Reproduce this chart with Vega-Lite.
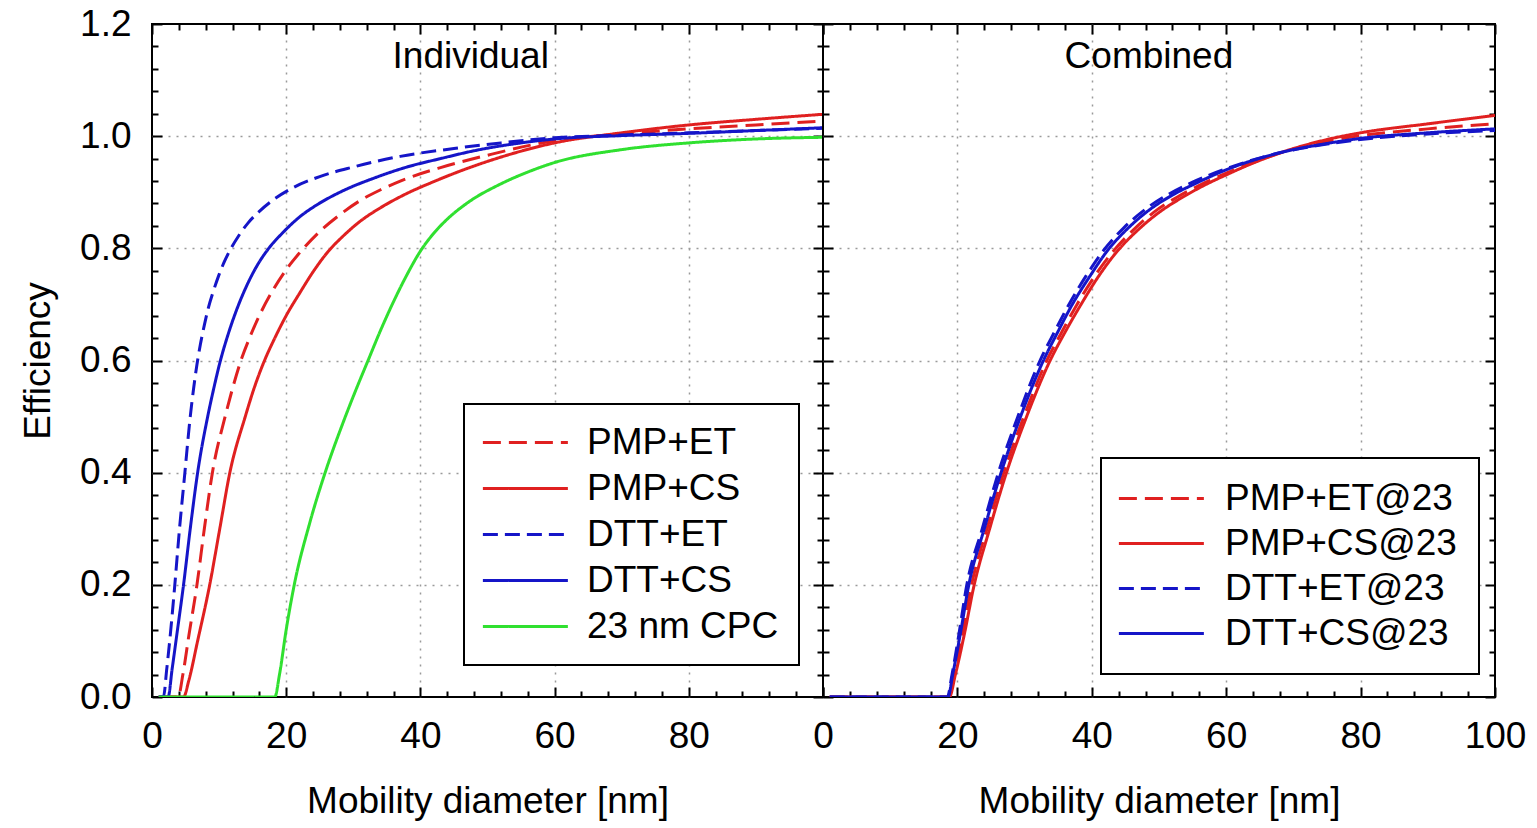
{
  "$schema": "https://vega.github.io/schema/vega-lite/v6.json",
  "background": "white",
  "bounds": "flush",
  "padding": {"left": 18, "top": 4, "right": 5, "bottom": 5},
  "config": {
    "font": "Liberation Sans",
    "view": {"stroke": "black", "strokeWidth": 2},
    "axis": {
      "domain": false, "tickColor": "black", "tickWidth": 2,
      "labelFontSize": 37, "labelColor": "black", "labelFont": "Liberation Sans",
      "titleFontSize": 37, "titleFontWeight": "normal", "titleColor": "black", "titleFont": "Liberation Sans",
      "labelOverlap": false, "labelFlush": false,
      "gridColor": "#9a9a9a", "gridDash": [2, 6], "gridWidth": 1.5
    },
    "legend": {"labelFont": "Liberation Sans", "labelColor": "black", "strokeWidth": 2}
  },
  "datasets": {
    "left": [
      {"s":"PMP+ET","d":1,"e":0},{"s":"PMP+ET","d":3.9,"e":0},{"s":"PMP+ET","d":4.6,"e":0.04},{"s":"PMP+ET","d":5.5,"e":0.11},{"s":"PMP+ET","d":6.7,"e":0.2},{"s":"PMP+ET","d":7.8,"e":0.3},{"s":"PMP+ET","d":9,"e":0.4},{"s":"PMP+ET","d":10.9,"e":0.5},{"s":"PMP+ET","d":12,"e":0.55},{"s":"PMP+ET","d":13.2,"e":0.598},{"s":"PMP+ET","d":14.6,"e":0.642},{"s":"PMP+ET","d":16.2,"e":0.685},{"s":"PMP+ET","d":18,"e":0.725},{"s":"PMP+ET","d":20,"e":0.762},{"s":"PMP+ET","d":22,"e":0.792},{"s":"PMP+ET","d":25,"e":0.83},{"s":"PMP+ET","d":28,"e":0.86},{"s":"PMP+ET","d":31,"e":0.885},{"s":"PMP+ET","d":34,"e":0.904},{"s":"PMP+ET","d":37,"e":0.92},{"s":"PMP+ET","d":43,"e":0.944},{"s":"PMP+ET","d":50,"e":0.966},{"s":"PMP+ET","d":60,"e":0.992},{"s":"PMP+ET","d":70,"e":1.004},{"s":"PMP+ET","d":80,"e":1.013},{"s":"PMP+ET","d":90,"e":1.02},{"s":"PMP+ET","d":100,"e":1.027},
      {"s":"PMP+CS","d":1,"e":0},{"s":"PMP+CS","d":4.7,"e":0},{"s":"PMP+CS","d":5.5,"e":0.03},{"s":"PMP+CS","d":6.8,"e":0.1},{"s":"PMP+CS","d":8.6,"e":0.2},{"s":"PMP+CS","d":10.1,"e":0.3},{"s":"PMP+CS","d":11.6,"e":0.4},{"s":"PMP+CS","d":13.9,"e":0.5},{"s":"PMP+CS","d":15.2,"e":0.55},{"s":"PMP+CS","d":16.7,"e":0.598},{"s":"PMP+CS","d":18.3,"e":0.64},{"s":"PMP+CS","d":20,"e":0.68},{"s":"PMP+CS","d":22,"e":0.72},{"s":"PMP+CS","d":24,"e":0.758},{"s":"PMP+CS","d":26.3,"e":0.795},{"s":"PMP+CS","d":28.5,"e":0.822},{"s":"PMP+CS","d":31,"e":0.848},{"s":"PMP+CS","d":34,"e":0.872},{"s":"PMP+CS","d":37.5,"e":0.895},{"s":"PMP+CS","d":42,"e":0.919},{"s":"PMP+CS","d":50,"e":0.955},{"s":"PMP+CS","d":60,"e":0.988},{"s":"PMP+CS","d":70,"e":1.006},{"s":"PMP+CS","d":80,"e":1.02},{"s":"PMP+CS","d":90,"e":1.03},{"s":"PMP+CS","d":100,"e":1.039},
      {"s":"DTT+ET","d":1,"e":0},{"s":"DTT+ET","d":1.7,"e":0},{"s":"DTT+ET","d":2.2,"e":0.05},{"s":"DTT+ET","d":2.8,"e":0.12},{"s":"DTT+ET","d":3.4,"e":0.2},{"s":"DTT+ET","d":4.1,"e":0.3},{"s":"DTT+ET","d":4.9,"e":0.4},{"s":"DTT+ET","d":5.7,"e":0.5},{"s":"DTT+ET","d":6.2,"e":0.55},{"s":"DTT+ET","d":6.7,"e":0.593},{"s":"DTT+ET","d":7.2,"e":0.628},{"s":"DTT+ET","d":7.8,"e":0.663},{"s":"DTT+ET","d":8.4,"e":0.694},{"s":"DTT+ET","d":9.1,"e":0.722},{"s":"DTT+ET","d":9.9,"e":0.75},{"s":"DTT+ET","d":10.7,"e":0.774},{"s":"DTT+ET","d":11.6,"e":0.796},{"s":"DTT+ET","d":12.9,"e":0.822},{"s":"DTT+ET","d":14.3,"e":0.845},{"s":"DTT+ET","d":16,"e":0.866},{"s":"DTT+ET","d":17.9,"e":0.885},{"s":"DTT+ET","d":21,"e":0.908},{"s":"DTT+ET","d":25,"e":0.928},{"s":"DTT+ET","d":30,"e":0.945},{"s":"DTT+ET","d":37,"e":0.964},{"s":"DTT+ET","d":45,"e":0.978},{"s":"DTT+ET","d":52,"e":0.988},{"s":"DTT+ET","d":60,"e":0.997},{"s":"DTT+ET","d":70,"e":1.002},{"s":"DTT+ET","d":80,"e":1.006},{"s":"DTT+ET","d":90,"e":1.01},{"s":"DTT+ET","d":100,"e":1.014},
      {"s":"DTT+CS","d":1,"e":0},{"s":"DTT+CS","d":2.4,"e":0},{"s":"DTT+CS","d":3,"e":0.05},{"s":"DTT+CS","d":3.8,"e":0.12},{"s":"DTT+CS","d":4.7,"e":0.2},{"s":"DTT+CS","d":5.7,"e":0.3},{"s":"DTT+CS","d":6.8,"e":0.4},{"s":"DTT+CS","d":8.3,"e":0.5},{"s":"DTT+CS","d":9.2,"e":0.55},{"s":"DTT+CS","d":10.2,"e":0.6},{"s":"DTT+CS","d":11.3,"e":0.645},{"s":"DTT+CS","d":12.6,"e":0.69},{"s":"DTT+CS","d":14.1,"e":0.733},{"s":"DTT+CS","d":15.7,"e":0.77},{"s":"DTT+CS","d":17.4,"e":0.8},{"s":"DTT+CS","d":19.5,"e":0.828},{"s":"DTT+CS","d":22,"e":0.856},{"s":"DTT+CS","d":24.5,"e":0.877},{"s":"DTT+CS","d":28,"e":0.9},{"s":"DTT+CS","d":33.5,"e":0.927},{"s":"DTT+CS","d":38,"e":0.945},{"s":"DTT+CS","d":43,"e":0.96},{"s":"DTT+CS","d":48,"e":0.974},{"s":"DTT+CS","d":55,"e":0.988},{"s":"DTT+CS","d":60,"e":0.995},{"s":"DTT+CS","d":70,"e":1.001},{"s":"DTT+CS","d":80,"e":1.005},{"s":"DTT+CS","d":90,"e":1.01},{"s":"DTT+CS","d":100,"e":1.015},
      {"s":"23 nm CPC","d":1,"e":0},{"s":"23 nm CPC","d":18.3,"e":0},{"s":"23 nm CPC","d":19,"e":0.04},{"s":"23 nm CPC","d":20,"e":0.12},{"s":"23 nm CPC","d":21.2,"e":0.2},{"s":"23 nm CPC","d":23.5,"e":0.31},{"s":"23 nm CPC","d":25.8,"e":0.4},{"s":"23 nm CPC","d":28.5,"e":0.49},{"s":"23 nm CPC","d":30.3,"e":0.545},{"s":"23 nm CPC","d":32.2,"e":0.6},{"s":"23 nm CPC","d":34,"e":0.652},{"s":"23 nm CPC","d":36,"e":0.705},{"s":"23 nm CPC","d":38,"e":0.753},{"s":"23 nm CPC","d":40,"e":0.795},{"s":"23 nm CPC","d":42,"e":0.827},{"s":"23 nm CPC","d":44,"e":0.852},{"s":"23 nm CPC","d":47,"e":0.881},{"s":"23 nm CPC","d":52,"e":0.915},{"s":"23 nm CPC","d":56,"e":0.936},{"s":"23 nm CPC","d":60,"e":0.953},{"s":"23 nm CPC","d":70,"e":0.976},{"s":"23 nm CPC","d":80,"e":0.988},{"s":"23 nm CPC","d":90,"e":0.995},{"s":"23 nm CPC","d":100,"e":0.998}
    ],
    "right": [
      {"s":"PMP+ET@23","d":1,"e":0},{"s":"PMP+ET@23","d":18.7,"e":0},{"s":"PMP+ET@23","d":19.5,"e":0.04},{"s":"PMP+ET@23","d":20.7,"e":0.11},{"s":"PMP+ET@23","d":22.1,"e":0.2},{"s":"PMP+ET@23","d":24.4,"e":0.3},{"s":"PMP+ET@23","d":26.9,"e":0.4},{"s":"PMP+ET@23","d":29.9,"e":0.5},{"s":"PMP+ET@23","d":33.3,"e":0.6},{"s":"PMP+ET@23","d":35.5,"e":0.65},{"s":"PMP+ET@23","d":37.8,"e":0.7},{"s":"PMP+ET@23","d":40.4,"e":0.75},{"s":"PMP+ET@23","d":43.2,"e":0.795},{"s":"PMP+ET@23","d":46.2,"e":0.833},{"s":"PMP+ET@23","d":49.3,"e":0.865},{"s":"PMP+ET@23","d":52.8,"e":0.892},{"s":"PMP+ET@23","d":56.3,"e":0.914},{"s":"PMP+ET@23","d":60,"e":0.934},{"s":"PMP+ET@23","d":64,"e":0.953},{"s":"PMP+ET@23","d":67.5,"e":0.968},{"s":"PMP+ET@23","d":75,"e":0.991},{"s":"PMP+ET@23","d":80,"e":1.001},{"s":"PMP+ET@23","d":90,"e":1.013},{"s":"PMP+ET@23","d":100,"e":1.022},
      {"s":"PMP+CS@23","d":1,"e":0},{"s":"PMP+CS@23","d":18.8,"e":0},{"s":"PMP+CS@23","d":19.7,"e":0.04},{"s":"PMP+CS@23","d":21,"e":0.11},{"s":"PMP+CS@23","d":22.5,"e":0.2},{"s":"PMP+CS@23","d":24.8,"e":0.3},{"s":"PMP+CS@23","d":27.3,"e":0.4},{"s":"PMP+CS@23","d":30.3,"e":0.5},{"s":"PMP+CS@23","d":33.8,"e":0.6},{"s":"PMP+CS@23","d":36,"e":0.65},{"s":"PMP+CS@23","d":38.4,"e":0.7},{"s":"PMP+CS@23","d":41,"e":0.75},{"s":"PMP+CS@23","d":43.8,"e":0.795},{"s":"PMP+CS@23","d":46.8,"e":0.832},{"s":"PMP+CS@23","d":50,"e":0.864},{"s":"PMP+CS@23","d":53.5,"e":0.891},{"s":"PMP+CS@23","d":57,"e":0.914},{"s":"PMP+CS@23","d":60,"e":0.931},{"s":"PMP+CS@23","d":64,"e":0.952},{"s":"PMP+CS@23","d":67.5,"e":0.968},{"s":"PMP+CS@23","d":75,"e":0.994},{"s":"PMP+CS@23","d":80,"e":1.006},{"s":"PMP+CS@23","d":90,"e":1.022},{"s":"PMP+CS@23","d":100,"e":1.037},
      {"s":"DTT+ET@23","d":1,"e":0},{"s":"DTT+ET@23","d":18.5,"e":0},{"s":"DTT+ET@23","d":19.2,"e":0.04},{"s":"DTT+ET@23","d":20.2,"e":0.11},{"s":"DTT+ET@23","d":21.4,"e":0.2},{"s":"DTT+ET@23","d":23.7,"e":0.3},{"s":"DTT+ET@23","d":26.1,"e":0.4},{"s":"DTT+ET@23","d":29,"e":0.5},{"s":"DTT+ET@23","d":32.3,"e":0.6},{"s":"DTT+ET@23","d":34.4,"e":0.65},{"s":"DTT+ET@23","d":36.6,"e":0.7},{"s":"DTT+ET@23","d":39.1,"e":0.75},{"s":"DTT+ET@23","d":41.8,"e":0.797},{"s":"DTT+ET@23","d":44.8,"e":0.837},{"s":"DTT+ET@23","d":48,"e":0.87},{"s":"DTT+ET@23","d":51.5,"e":0.897},{"s":"DTT+ET@23","d":55,"e":0.918},{"s":"DTT+ET@23","d":60,"e":0.942},{"s":"DTT+ET@23","d":67.5,"e":0.969},{"s":"DTT+ET@23","d":75,"e":0.986},{"s":"DTT+ET@23","d":80,"e":0.994},{"s":"DTT+ET@23","d":90,"e":1.004},{"s":"DTT+ET@23","d":100,"e":1.01},
      {"s":"DTT+CS@23","d":1,"e":0},{"s":"DTT+CS@23","d":18.6,"e":0},{"s":"DTT+CS@23","d":19.3,"e":0.04},{"s":"DTT+CS@23","d":20.4,"e":0.11},{"s":"DTT+CS@23","d":21.7,"e":0.2},{"s":"DTT+CS@23","d":24,"e":0.3},{"s":"DTT+CS@23","d":26.5,"e":0.4},{"s":"DTT+CS@23","d":29.4,"e":0.5},{"s":"DTT+CS@23","d":32.8,"e":0.6},{"s":"DTT+CS@23","d":34.9,"e":0.65},{"s":"DTT+CS@23","d":37.1,"e":0.7},{"s":"DTT+CS@23","d":39.7,"e":0.75},{"s":"DTT+CS@23","d":42.4,"e":0.797},{"s":"DTT+CS@23","d":45.4,"e":0.836},{"s":"DTT+CS@23","d":48.5,"e":0.868},{"s":"DTT+CS@23","d":52,"e":0.895},{"s":"DTT+CS@23","d":55.5,"e":0.916},{"s":"DTT+CS@23","d":60,"e":0.94},{"s":"DTT+CS@23","d":67.5,"e":0.969},{"s":"DTT+CS@23","d":75,"e":0.987},{"s":"DTT+CS@23","d":80,"e":0.996},{"s":"DTT+CS@23","d":90,"e":1.006},{"s":"DTT+CS@23","d":100,"e":1.013}
    ]
  },
  "spacing": 0,
  "resolve": {
    "scale": {"color": "independent", "strokeDash": "independent"},
    "legend": {"color": "independent", "strokeDash": "independent"}
  },
  "hconcat": [
    {
      "width": 671, "height": 673,
      "resolve": {"axis": {"x": "independent", "y": "independent"}},
      "layer": [
        {
          "data": {"name": "left"},
          "mark": {"type": "line", "strokeWidth": 3, "clip": true, "interpolate": "monotone"},
          "encoding": {
            "x": {"field": "d", "type": "quantitative",
              "scale": {"domain": [0, 100], "nice": false, "zero": false},
              "axis": {"orient": "bottom",
                "values": [0,4,8,12,16,20,24,28,32,36,40,44,48,52,56,60,64,68,72,76,80,84,88,92,96,100],
                "tickSize": {"condition": {"test": "datum.value % 20 === 0", "value": -10}, "value": -6},
                "labelExpr": "datum.value % 20 === 0 && datum.value < 100 ? datum.label : ''",
                "labelPadding": 31,
                "grid": true,
                "gridOpacity": {"condition": {"test": "datum.value % 20 === 0 && datum.value > 0 && datum.value < 100", "value": 1}, "value": 0},
                "title": "Mobility diameter [nm]", "titlePadding": 25}},
            "y": {"field": "e", "type": "quantitative",
              "scale": {"domain": [0, 1.2], "nice": false, "zero": false},
              "axis": {"orient": "left",
                "values": [0,0.04,0.08,0.12,0.16,0.2,0.24,0.28,0.32,0.36,0.4,0.44,0.48,0.52,0.56,0.6,0.64,0.68,0.72,0.76,0.8,0.84,0.88,0.92,0.96,1,1.04,1.08,1.12,1.16,1.2],
                "tickSize": {"condition": {"test": "abs(datum.value*5 - round(datum.value*5)) < 0.001", "value": -10}, "value": -6},
                "labelExpr": "abs(datum.value*5 - round(datum.value*5)) < 0.001 ? format(datum.value, '.1f') : ''",
                "labelPadding": 31,
                "grid": true,
                "gridOpacity": {"condition": {"test": "abs(datum.value*5 - round(datum.value*5)) < 0.001 && datum.value > 0.01 && datum.value < 1.19", "value": 1}, "value": 0},
                "title": "Efficiency", "titlePadding": 22}},
            "color": {"field": "s", "type": "nominal",
              "scale": {"domain": ["PMP+ET","PMP+CS","DTT+ET","DTT+CS","23 nm CPC"], "range": ["#e02020","#e02020","#1515c8","#1515c8","#30e030"]},
              "legend": {"title": null, "orient": "none", "legendX": 312, "legendY": 380, "symbolType": "M-1,0H7", "symbolSize": 451.6, "symbolStrokeWidth": 3, "symbolOffset": -9, "labelOffset": 75, "labelFontSize": 37, "labelLimit": 400, "rowPadding": 8, "padding": 20, "strokeColor": "black", "fillColor": "white"}},
            "strokeDash": {"field": "s", "type": "nominal",
              "scale": {"domain": ["PMP+ET","PMP+CS","DTT+ET","DTT+CS","23 nm CPC"], "range": [[18,8],[1,0],[15,7],[1,0],[1,0]]},
              "legend": {"title": null, "orient": "none", "legendX": 312, "legendY": 380, "symbolType": "M-1,0H7", "symbolSize": 451.6, "symbolStrokeWidth": 3, "symbolOffset": -9, "labelOffset": 75, "labelFontSize": 37, "labelLimit": 400, "rowPadding": 8, "padding": 20, "strokeColor": "black", "fillColor": "white"}}
          }
        },
        {
          "data": {"values": [{}]},
          "mark": {"type": "text", "text": "Individual", "fontSize": 37, "font": "Liberation Sans", "fill": "black"},
          "encoding": {
            "x": {"datum": 47.5, "type": "quantitative",
              "axis": {"orient": "top",
                "values": [0,4,8,12,16,20,24,28,32,36,40,44,48,52,56,60,64,68,72,76,80,84,88,92,96,100],
                "tickSize": {"condition": {"test": "datum.value % 20 === 0", "value": -10}, "value": -6},
                "labels": false, "grid": false, "title": null, "minExtent": 0, "maxExtent": 0}},
            "y": {"datum": 1.141, "type": "quantitative",
              "axis": {"orient": "right",
                "values": [0,0.04,0.08,0.12,0.16,0.2,0.24,0.28,0.32,0.36,0.4,0.44,0.48,0.52,0.56,0.6,0.64,0.68,0.72,0.76,0.8,0.84,0.88,0.92,0.96,1,1.04,1.08,1.12,1.16,1.2],
                "tickSize": {"condition": {"test": "abs(datum.value*5 - round(datum.value*5)) < 0.001", "value": -10}, "value": -6},
                "labels": false, "grid": false, "title": null, "minExtent": 0, "maxExtent": 0}}
          }
        }
      ]
    },
    {
      "width": 672, "height": 673,
      "resolve": {"axis": {"x": "independent", "y": "independent"}},
      "layer": [
        {
          "data": {"name": "right"},
          "mark": {"type": "line", "strokeWidth": 3, "clip": true, "interpolate": "monotone"},
          "encoding": {
            "x": {"field": "d", "type": "quantitative",
              "scale": {"domain": [0, 100], "nice": false, "zero": false},
              "axis": {"orient": "bottom",
                "values": [0,4,8,12,16,20,24,28,32,36,40,44,48,52,56,60,64,68,72,76,80,84,88,92,96,100],
                "tickSize": {"condition": {"test": "datum.value % 20 === 0", "value": -10}, "value": -6},
                "labelExpr": "datum.value % 20 === 0 ? datum.label : ''",
                "labelPadding": 31,
                "grid": true,
                "gridOpacity": {"condition": {"test": "datum.value % 20 === 0 && datum.value > 0 && datum.value < 100", "value": 1}, "value": 0},
                "title": "Mobility diameter [nm]", "titlePadding": 25}},
            "y": {"field": "e", "type": "quantitative",
              "scale": {"domain": [0, 1.2], "nice": false, "zero": false},
              "axis": {"orient": "left",
                "values": [0,0.04,0.08,0.12,0.16,0.2,0.24,0.28,0.32,0.36,0.4,0.44,0.48,0.52,0.56,0.6,0.64,0.68,0.72,0.76,0.8,0.84,0.88,0.92,0.96,1,1.04,1.08,1.12,1.16,1.2],
                "tickSize": {"condition": {"test": "abs(datum.value*5 - round(datum.value*5)) < 0.001", "value": -10}, "value": -6},
                "labels": false,
                "grid": true,
                "gridOpacity": {"condition": {"test": "abs(datum.value*5 - round(datum.value*5)) < 0.001 && datum.value > 0.01 && datum.value < 1.19", "value": 1}, "value": 0},
                "title": null, "minExtent": 0, "maxExtent": 0}},
            "color": {"field": "s", "type": "nominal",
              "scale": {"domain": ["PMP+ET@23","PMP+CS@23","DTT+ET@23","DTT+CS@23"], "range": ["#e02020","#e02020","#1515c8","#1515c8"]},
              "legend": {"title": null, "orient": "none", "legendX": 278, "legendY": 434, "symbolType": "M-1,0H7", "symbolSize": 451.6, "symbolStrokeWidth": 3, "symbolOffset": -12, "labelOffset": 77, "labelFontSize": 37, "labelLimit": 400, "rowPadding": 7, "padding": 22, "strokeColor": "black", "fillColor": "white"}},
            "strokeDash": {"field": "s", "type": "nominal",
              "scale": {"domain": ["PMP+ET@23","PMP+CS@23","DTT+ET@23","DTT+CS@23"], "range": [[18,8],[1,0],[15,7],[1,0]]},
              "legend": {"title": null, "orient": "none", "legendX": 278, "legendY": 434, "symbolType": "M-1,0H7", "symbolSize": 451.6, "symbolStrokeWidth": 3, "symbolOffset": -12, "labelOffset": 77, "labelFontSize": 37, "labelLimit": 400, "rowPadding": 7, "padding": 22, "strokeColor": "black", "fillColor": "white"}}
          }
        },
        {
          "data": {"values": [{}]},
          "mark": {"type": "text", "text": "Combined", "fontSize": 37, "font": "Liberation Sans", "fill": "black"},
          "encoding": {
            "x": {"datum": 48.5, "type": "quantitative",
              "axis": {"orient": "top",
                "values": [0,4,8,12,16,20,24,28,32,36,40,44,48,52,56,60,64,68,72,76,80,84,88,92,96,100],
                "tickSize": {"condition": {"test": "datum.value % 20 === 0", "value": -10}, "value": -6},
                "labels": false, "grid": false, "title": null, "minExtent": 0, "maxExtent": 0}},
            "y": {"datum": 1.141, "type": "quantitative",
              "axis": {"orient": "right",
                "values": [0,0.04,0.08,0.12,0.16,0.2,0.24,0.28,0.32,0.36,0.4,0.44,0.48,0.52,0.56,0.6,0.64,0.68,0.72,0.76,0.8,0.84,0.88,0.92,0.96,1,1.04,1.08,1.12,1.16,1.2],
                "tickSize": {"condition": {"test": "abs(datum.value*5 - round(datum.value*5)) < 0.001", "value": -10}, "value": -6},
                "labels": false, "grid": false, "title": null, "minExtent": 0, "maxExtent": 0}}
          }
        }
      ]
    }
  ]
}
